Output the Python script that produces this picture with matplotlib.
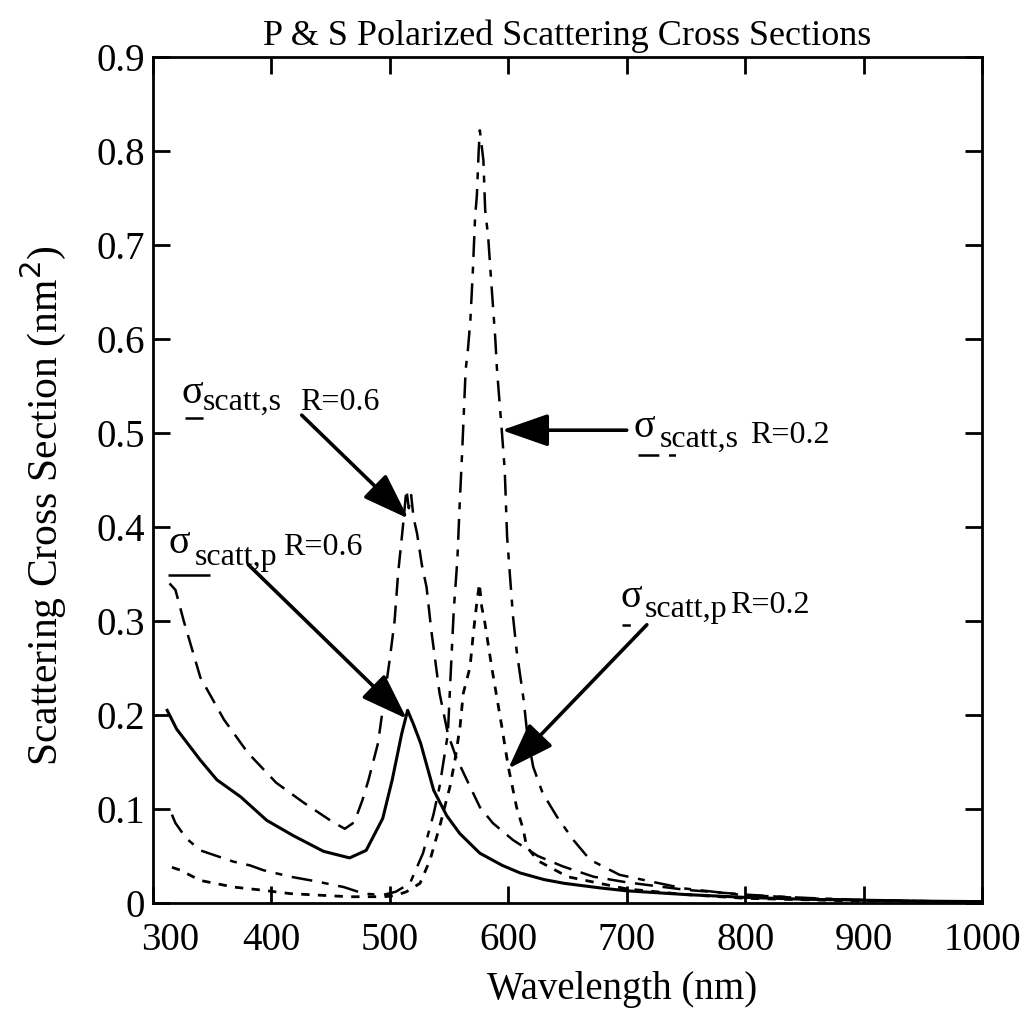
import matplotlib
matplotlib.use("Agg")
import matplotlib.pyplot as plt
from matplotlib.transforms import ScaledTranslation

# sigma_scatt,p  R=0.6  (solid)
wl_p06 = [312, 320, 340, 354, 374, 396, 418, 444, 466, 480, 494, 502, 510, 515,
          520, 526, 537, 548, 559, 576, 595, 610, 630, 647, 678, 700, 750, 800,
          850, 900, 950, 1000]
sig_p06 = [0.205, 0.185, 0.152, 0.131, 0.113, 0.088, 0.072, 0.055, 0.048, 0.056,
           0.090, 0.131, 0.180, 0.205, 0.190, 0.170, 0.120, 0.093, 0.074, 0.053,
           0.040, 0.032, 0.025, 0.021, 0.016, 0.013, 0.009, 0.006, 0.004, 0.003,
           0.002, 0.0015]

# sigma_scatt,s  R=0.6  (long dash)
wl_s06 = [314, 319, 326, 340, 360, 380, 404, 427, 452, 462, 470, 477, 482, 490,
          495, 500, 504, 507, 511, 514, 516, 518, 520, 523, 527, 531, 535, 542,
          549, 556, 565, 576, 587, 604, 625, 646, 672, 700, 750, 800, 850, 900,
          950, 1000]
sig_s06 = [0.340, 0.333, 0.300, 0.240, 0.195, 0.160, 0.128, 0.107, 0.086, 0.079,
           0.086, 0.110, 0.131, 0.170, 0.215, 0.260, 0.300, 0.351, 0.400, 0.440,
           0.420, 0.434, 0.410, 0.393, 0.360, 0.336, 0.290, 0.223, 0.180, 0.155,
           0.131, 0.102, 0.085, 0.067, 0.050, 0.039, 0.028, 0.022, 0.014, 0.009,
           0.005, 0.003, 0.002, 0.0015]

# sigma_scatt,s  R=0.2  (dash-dot)
wl_s02 = [316, 319, 328, 340, 368, 382, 393, 416, 438, 461, 478, 494, 505, 517,
          528, 537, 542, 549, 551, 554, 557, 559, 561, 564, 566, 568, 570, 572,
          573.5, 575, 576, 579, 580.5, 583, 586, 589, 590.5, 594.5, 597, 599,
          601.5, 604, 607, 613, 616, 621, 629, 641, 655, 669, 694, 720, 748,
          798, 860, 917, 1000]
sig_s02 = [0.094, 0.085, 0.069, 0.056, 0.044, 0.040, 0.035, 0.028, 0.023, 0.017,
           0.010, 0.0085, 0.012, 0.021, 0.053, 0.095, 0.124, 0.180, 0.234, 0.312,
           0.365, 0.425, 0.478, 0.567, 0.590, 0.620, 0.670, 0.730, 0.753, 0.800,
           0.822, 0.790, 0.737, 0.709, 0.654, 0.601, 0.567, 0.503, 0.461, 0.390,
           0.347, 0.305, 0.269, 0.216, 0.180, 0.145, 0.117, 0.092, 0.067, 0.046,
           0.030, 0.023, 0.0156, 0.0085, 0.005, 0.0025, 0.0014]

# sigma_scatt,p  R=0.2  (short dash)
wl_p02 = [316, 323, 340, 368, 390, 416, 438, 466, 495, 505, 514, 525.5, 534,
          542.4, 550.8, 555, 559.3, 562, 567.7, 570.5, 573.4, 575.6, 577.6, 580,
          586, 594.5, 600, 607, 612.7, 615.5, 625, 650, 700, 750, 800, 900, 1000]
sig_p02 = [0.038, 0.035, 0.024, 0.017, 0.014, 0.010, 0.0085, 0.0067, 0.0067, 0.008,
           0.012, 0.021, 0.046, 0.083, 0.124, 0.152, 0.188, 0.223, 0.251, 0.287,
           0.319, 0.340, 0.315, 0.300, 0.251, 0.188, 0.145, 0.102, 0.078, 0.060,
           0.045, 0.028, 0.015, 0.009, 0.005, 0.002, 0.001]

x_ticks = [300, 400, 500, 600, 700, 800, 900, 1000]
y_ticks = [0, 0.1, 0.2, 0.3, 0.4, 0.5, 0.6, 0.7, 0.8, 0.9]
y_ticklabels = ["0", "0.1", "0.2", "0.3", "0.4", "0.5", "0.6", "0.7", "0.8", "0.9"]

plt.rcParams["font.family"] = ["Liberation Serif", "DejaVu Serif"]
plt.rcParams["lines.scale_dashes"] = False

LONG = (0, (13, 7))
DASHDOT = (0, (15, 7, 5, 7))
SHORT = (0, (6, 6))

fig = plt.figure(figsize=(10.35, 10.11), dpi=100)
ax = fig.add_axes([0.1478, 0.1068, 0.8010, 0.8368])

ax.plot(wl_p06, sig_p06, color="k", lw=2.2, ls="-")
ax.plot(wl_s06, sig_s06, color="k", lw=1.8, ls=LONG)
ax.plot(wl_s02, sig_s02, color="k", lw=1.8, ls=DASHDOT)
ax.plot(wl_p02, sig_p02, color="k", lw=2.0, ls=SHORT)

ax.set_xlim(300, 1000)
ax.set_ylim(0, 0.9)
ax.set_xticks(x_ticks)
ax.set_yticks(y_ticks)
ax.set_yticklabels(y_ticklabels)
ax.tick_params(direction="in", length=12, width=2, labelsize=28,
               top=True, right=True)
ax.tick_params(axis="x", pad=14)
ax.tick_params(axis="y", pad=6)
for s in ax.spines.values():
    s.set_linewidth(2)

# the "300" label sits a bit right of its tick, leaving room for the y "0"
first = ax.get_xticklabels()[0]
first.set_transform(first.get_transform()
                    + ScaledTranslation(12 / 72, 0, fig.dpi_scale_trans))

ax.set_title("P & S Polarized Scattering Cross Sections", fontsize=26, pad=9)
ax.set_xlabel("Wavelength (nm)", fontsize=28)
ax.xaxis.set_label_coords(0.566, -0.08)
ax.set_ylabel("Scattering Cross Section (nm$^2$)", fontsize=30)
ax.yaxis.set_label_coords(-0.102, 0.47)

# curve labels: sigma + subscript + radius, with a line-style sample under sigma
fs = 23
labels = [
    # sigma pos, subscript pos, subscript, R pos, R text, sample x, sample y, style
    ((324, 0.532), (342, 0.5245), "scatt,s", (424, 0.5245), "R=0.6",
     (327, 346), 0.516, LONG),
    ((313, 0.372), (335.5, 0.360), "scatt,p", (410, 0.370), "R=0.6",
     (312.7, 348), 0.349, "-"),
    ((706, 0.496), (728, 0.485), "scatt,s", (804, 0.489), "R=0.2",
     (709.6, 743), 0.4766, DASHDOT),
    ((695, 0.315), (715.5, 0.304), "scatt,p", (787, 0.3085), "R=0.2",
     (696, 706), 0.296, SHORT),
]
for sg, sb, sbt, rp, rt, sx, sy, st in labels:
    ax.text(*sg, "σ", fontsize=29, ha="left", va="baseline")
    ax.text(*sb, sbt, fontsize=fs, ha="left", va="baseline")
    ax.text(*rp, rt, fontsize=fs, ha="left", va="baseline")
    ax.plot(sx, [sy, sy], color="k", lw=1.8, ls=st, solid_capstyle="butt")

arrow = dict(arrowstyle="-|>,head_length=1.2,head_width=0.42", lw=2.6,
             color="k", mutation_scale=24, shrinkA=0, shrinkB=0)
ax.annotate("", xy=(515.6, 0.409), xytext=(425.6, 0.519), arrowprops=arrow)
ax.annotate("", xy=(514.3, 0.196), xytext=(380.5, 0.360), arrowprops=arrow)
ax.annotate("", xy=(594.5, 0.503), xytext=(700, 0.503), arrowprops=arrow)
ax.annotate("", xy=(600, 0.143), xytext=(717, 0.296), arrowprops=arrow)

fig.savefig("out.png", dpi=100)
